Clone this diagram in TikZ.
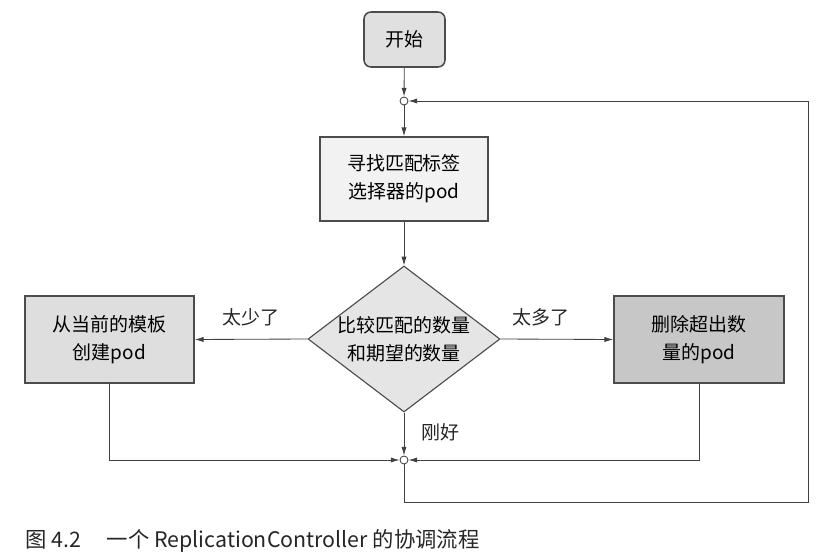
\documentclass[tikz,border=0pt]{standalone}
\usepackage{fontspec}
\setmainfont{Noto Sans CJK SC}
\usetikzlibrary{arrows.meta,shapes.geometric}
\begin{document}
\begin{tikzpicture}[x=0.025cm,y=-0.025cm,
  font=\fontsize{13.5}{20}\selectfont,
  ln/.style={draw=black!75, line width=0.6pt},
  arr/.style={ln, -{Latex[length=2.2mm,width=1.3mm]}},
  box/.style={draw=black!70, line width=1.1pt, align=center, inner sep=0pt},
  junc/.style={circle, draw=black!75, line width=0.6pt, fill=white, inner sep=0pt, minimum size=0.2cm},
  lbl/.style={inner sep=0pt, text=black!85}
]
\useasboundingbox (0,0) rectangle (824,559);
\node[box, rounded corners=5pt, fill=black!12, minimum width=2.025cm, minimum height=1.375cm] (start) at (404.5,39.5) {开始};
\node[junc] (j1) at (404,101) {};
\node[box, fill=black!5, minimum width=4.2cm, minimum height=2.1cm] (find) at (404,179) {寻找匹配标签\\选择器的pod};
\node[box, shape=diamond, line width=0.8pt, fill=black!10, minimum width=4.8cm, minimum height=3.65cm] (cmp) at (404,339) {};
\node[align=center, inner sep=0pt] (cmpt) at (cmp.center) {比较匹配的数量\\和期望的数量};
\node[box, fill=black!13, minimum width=4.225cm, minimum height=2.175cm] (create) at (109.5,339.5) {从当前的模板\\创建pod};
\node[box, fill=black!22, minimum width=4.25cm, minimum height=2.175cm] (delete) at (699,339.5) {删除超出数\\量的pod};
\node[junc] (j2) at (404,460) {};
\coordinate (c1) at (404,502);
\coordinate (c2) at (808,502);
\coordinate (c3) at (808,101);

\draw[arr] (start) -- (j1);
\draw[arr] (j1) -- (find);
\draw[arr] (find) -- (cmp.north);
\draw[arr] (cmp.west) -- (create.east) node[lbl, midway, above=9pt] {太少了};
\draw[arr] (cmp.east) -- (delete.west) node[lbl, pos=0.36, above=9pt] {太多了};
\draw[arr] (cmp.south) -- (j2) node[lbl, pos=0.45, right=12pt] {刚好};
\draw[arr] (create.south) |- (j2);
\draw[arr] (delete.south) |- (j2);
\draw[arr] (j2) -- (c1) -- (c2) -- (c3) -- (j1);

\node[anchor=west, inner sep=0pt, text=black!85, font=\fontsize{15.2}{18}\selectfont] (cap) at (25,541) {图 4.2\hspace{1.2em}一个 ReplicationController 的协调流程};
\end{tikzpicture}
\end{document}
